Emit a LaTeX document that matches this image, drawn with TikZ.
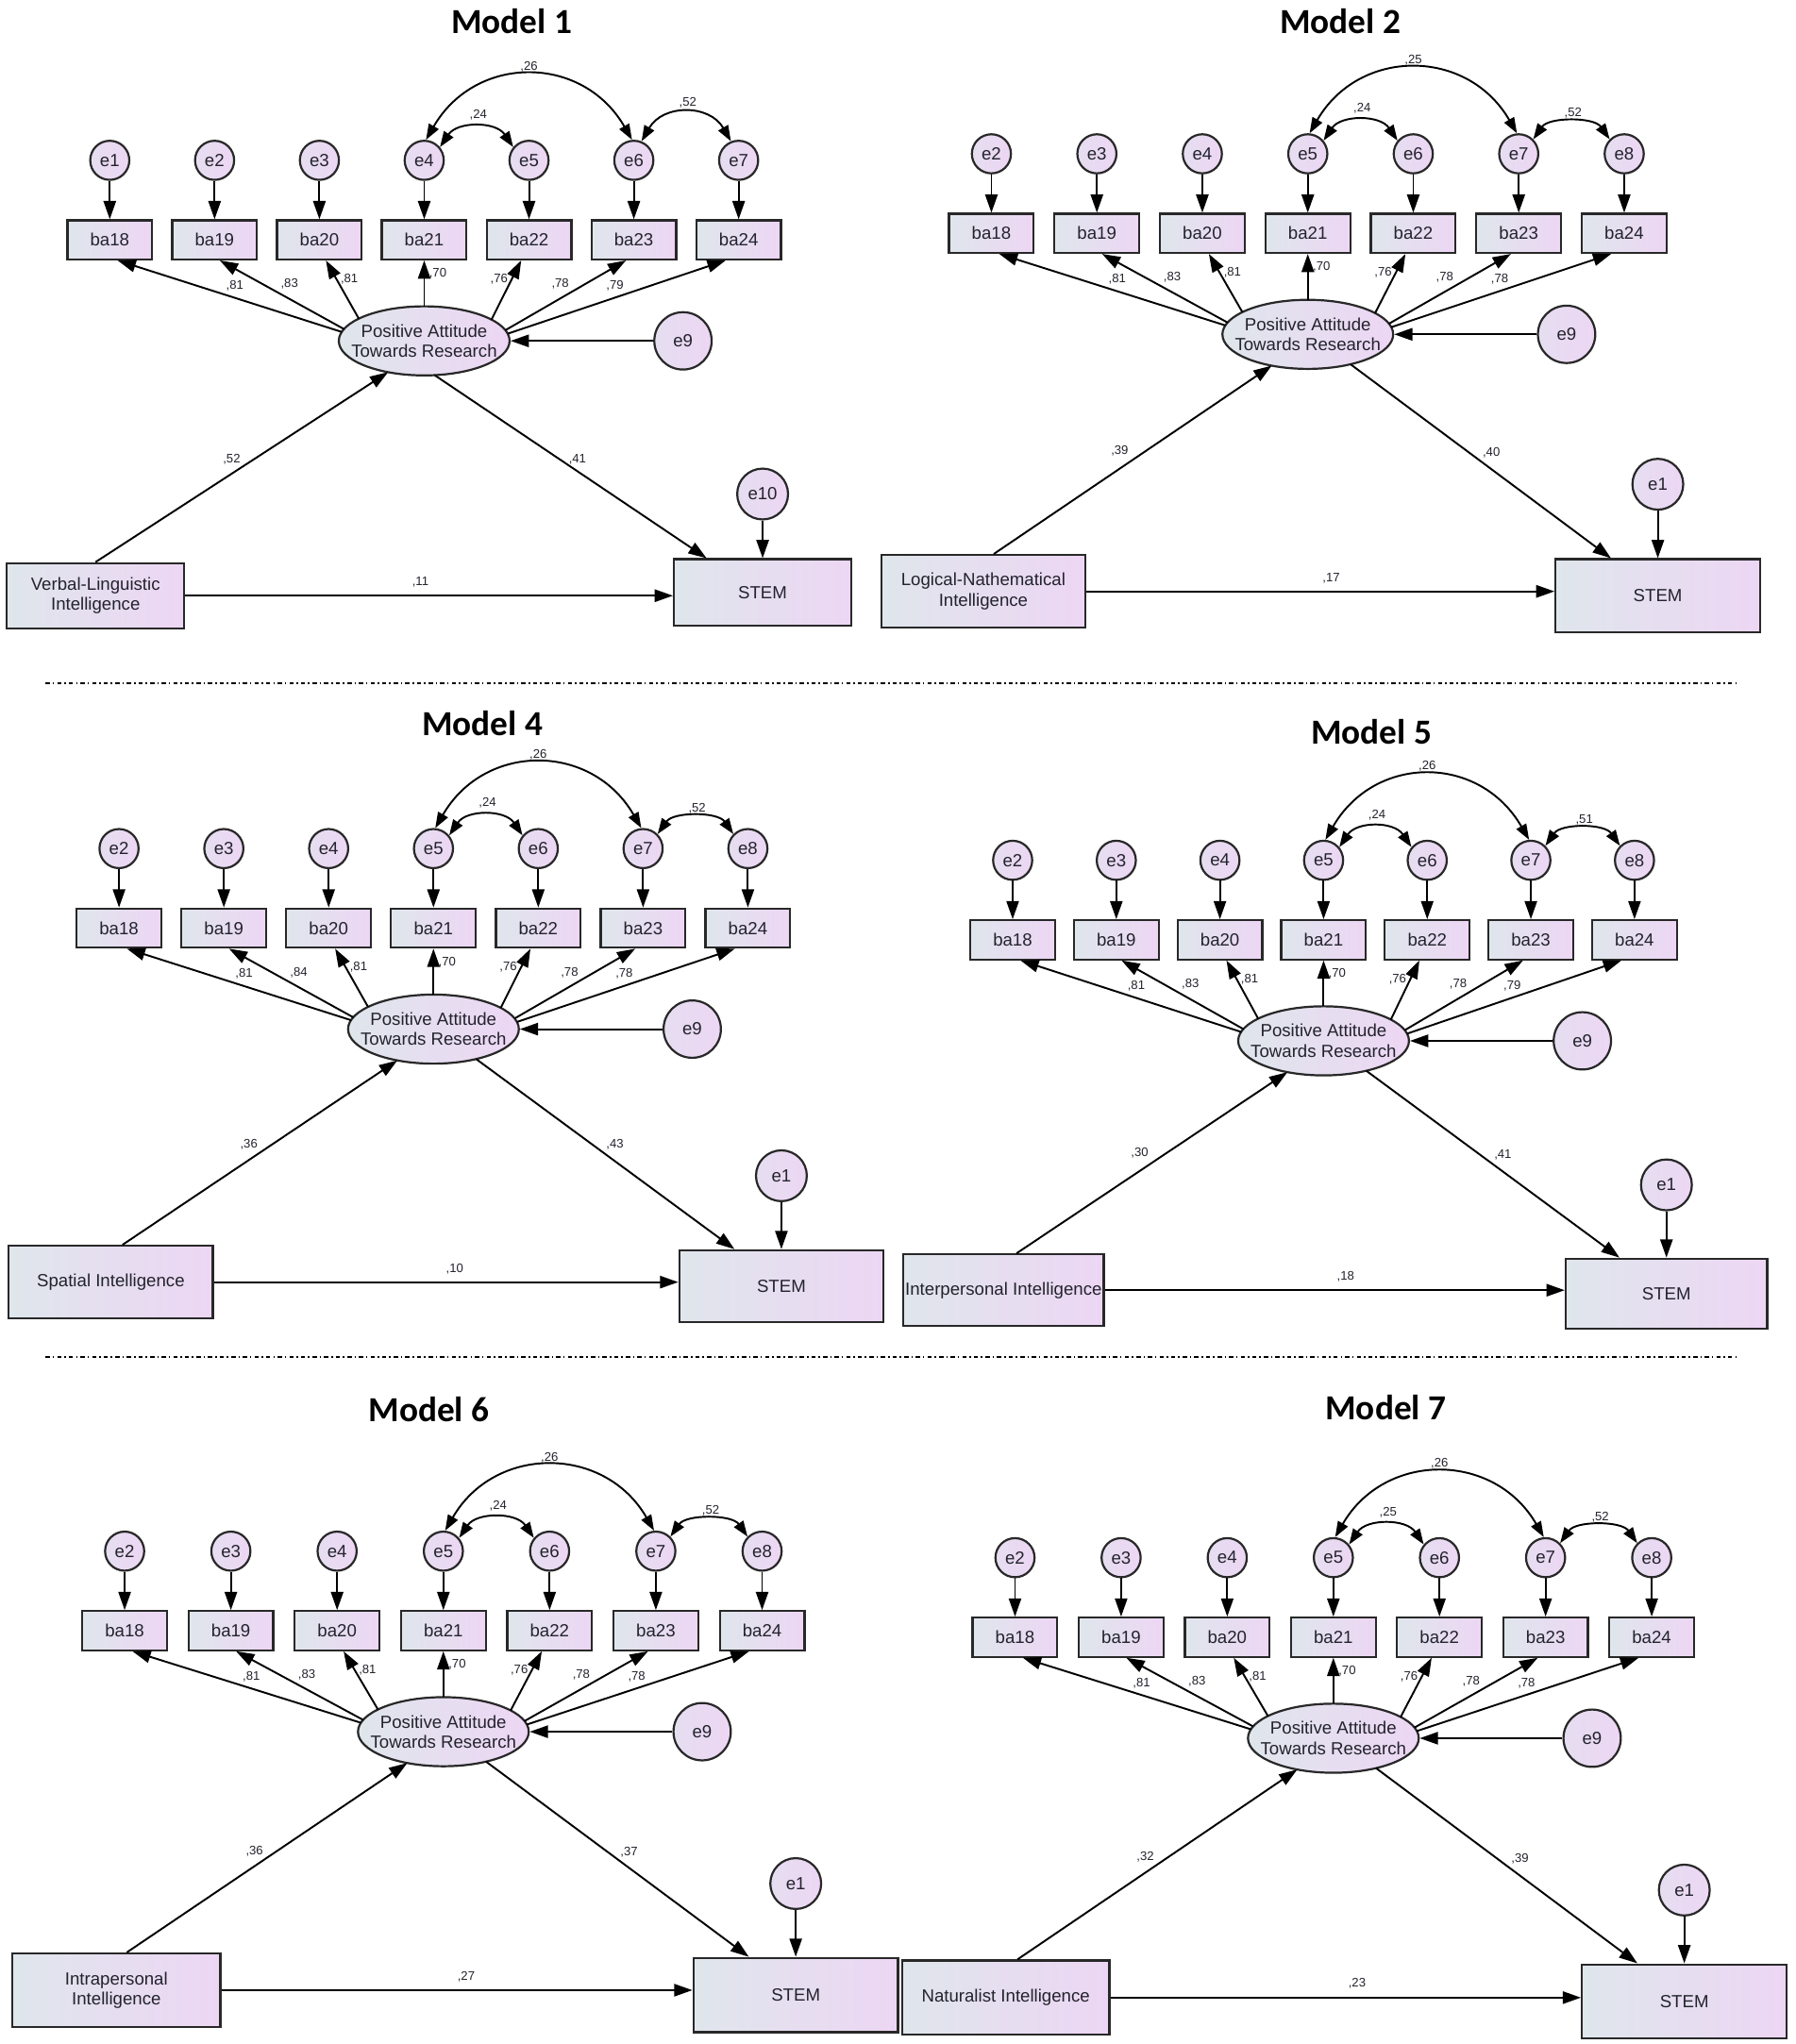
\documentclass[tikz,border=0pt]{standalone}
\usepackage{fontspec}
\setmainfont{Liberation Sans}
\newfontfamily\titlefont{Carlito}
\usetikzlibrary{arrows.meta,shapes.geometric,calc}

\definecolor{boxL}{RGB}{223,230,236}
\definecolor{boxR}{RGB}{237,214,244}
\definecolor{circL}{RGB}{229,222,240}
\definecolor{circR}{RGB}{237,214,244}
\definecolor{edgecol}{RGB}{40,40,40}
\definecolor{txt}{RGB}{35,35,45}

\tikzset{
  every node/.style={text=txt},
  shadebase/.style={draw=edgecol, line width=1.6pt, left color=boxL, right color=boxR, inner sep=0pt},
  indbox/.style={shadebase, rectangle, minimum width=65pt, minimum height=30pt, font=\fontsize{13.5}{15.5}\selectfont},
  errc/.style={shadebase, circle, left color=circL, right color=circR, minimum size=30pt, font=\fontsize{13.5}{15}\selectfont},
  errbig/.style={errc, minimum size=44pt},
  errmid/.style={errc, minimum size=39pt},
  latent/.style={shadebase, ellipse, inner xsep=-12pt, inner ysep=0pt, minimum width=131pt, minimum height=53pt, align=center, font=\fontsize{13.5}{15.5}\selectfont},
  obsbox/.style={shadebase, rectangle, align=center, font=\fontsize{13.5}{15.5}\selectfont},
  coef/.style={inner sep=0pt, font=\fontsize{9.5}{10}\selectfont},
  mtitle/.style={inner sep=0pt, font=\titlefont\bfseries\fontsize{27}{30}\selectfont, text=black},
  arr/.style={draw=black, line width=1.4pt, -{Triangle[length=14pt,width=9.5pt]}},
  covarr/.style={draw=black, line width=1.4pt, {Triangle[length=12pt,width=8.5pt]}-{Triangle[length=12pt,width=8.5pt]}},
  sepline/.style={draw=black, line width=1.1pt, dash pattern=on 3.3pt off 2.2pt on 1.1pt off 2.3pt},
}

\def\LX{{96,138,184,252,299,346,388,322,283,444}}

% #1 prefix, #2 x0, #3 y0, #4 spacing, #5 mode (1 = Model 1), #6 labels
\newcommand\semtop[6]{%
  \ifnum#5=1 \def\RL{-44}\else\def\RL{-31}\fi
  \edef\LY{{96,95,91,87,91,95,96,-72,-35,\RL}}%
  \foreach \k in {0,...,6}{%
    \pgfmathsetmacro\xx{#2+\k*#4}%
    \pgfmathtruncatemacro\en{\k+#5}%
    \pgfmathtruncatemacro\bn{\k+18}%
    \node[errc] (#1e\k) at (\xx,-#3) {e\en};
    \node[indbox] (#1b\k) at (\xx,-#3-61) {ba\bn};
    \draw[arr] (#1e\k) -- (#1b\k);
  }
  \node[latent] (#1lat) at ({#2+3*#4},{-#3-138.5}) {Positive Attitude\\Towards Research};
  \node[errbig] (#1e9) at ({#2+3*#4+198.5},{-#3-138.5}) {e9};
  \coordinate (#1in) at ($(#1lat.center)+(245:65.5 and 26.5)$);
  \coordinate (#1outA) at ($(#1lat.center)+(277:65.5 and 26.5)$);
  \coordinate (#1outB) at ($(#1lat.center)+(300:65.5 and 26.5)$);
  \draw[arr] (#1e9) -- (#1lat.east);
  \foreach \k/\ang/\oo in {0/165/6,1/160/4,2/140/5,3/90/0,4/38/-6,5/18/-6,6/12/-10}
    \draw[arr] ($(#1lat.center)+(\ang:65.5 and 26.5)$) -- ([xshift=\oo pt]#1b\k.south);
  \draw[covarr] (#1e3.85) to[out=60,in=120,distance=76pt] (#1e5.95);
  \draw[covarr] (#1e3.40) to[out=56,in=124,distance=24pt] (#1e4.140);
  \ifnum#5=1
    \draw[covarr] (#1e5.68) to[out=60,in=120,distance=33pt] (#1e6.112);
  \else
    \draw[covarr] (#1e5.45) to[out=55,in=125,distance=21pt] (#1e6.135);
  \fi
  \foreach \lab [count=\n from 0] in {#6}{%
    \pgfmathsetmacro\cdx{\LX[\n]}%
    \pgfmathsetmacro\cdy{\LY[\n]}%
    \pgfmathsetmacro\px{#2+\cdx/80.5*#4}%
    \pgfmathsetmacro\py{-#3-\cdy}%
    \node[coef] (#1c\n) at (\px,\py) {,\lab};
  }
}

\begin{document}
\begin{tikzpicture}[x=1pt,y=1pt]
\useasboundingbox (0,0) rectangle (1377,-1568.1);
\fill[white] (0,0) rectangle (1377,-1568.1);

% ---------------- Model 1
\node[mtitle] (m1t) at (392.5,-16) {Model 1};
\semtop{m1}{84.2}{123}{80.4}{1}{81,83,81,70,76,78,79,26,24,52}
\node[obsbox, minimum width=136pt, minimum height=50pt] (m1x) at (73.3,-457) {Verbal-Linguistic\\Intelligence};
\node[obsbox, minimum width=136pt, minimum height=51pt] (m1s) at (585,-454.5) {STEM};
\node[errmid] (m1z) at (585,-379) {e10};
\draw[arr] (m1x.north) -- (m1in);
\draw[arr] (m1outA) -- ([xshift=-43pt]m1s.north);
\draw[arr] (m1z) -- (m1z |- m1s.north);
\draw[arr] (m1x) -- (m1x -| m1s.west);
\node[coef] (m1c10) at (177.7,-352.4) {,52};
\node[coef] (m1c11) at (443,-352.4) {,41};
\node[coef] (m1c12) at (322.5,-446.5) {,11};

% ---------------- Model 2
\node[mtitle] (m2t) at (1028,-16) {Model 2};
\semtop{m2}{760.5}{118}{80.9}{2}{81,83,81,70,76,78,78,25,24,52}
\node[obsbox, minimum width=156.6pt, minimum height=55.8pt] (m2x) at (754.3,-453.7) {Logical-Nathematical\\Intelligence};
\node[obsbox, minimum width=157pt, minimum height=56pt] (m2s) at (1271.7,-457) {STEM};
\node[errmid] (m2z) at (1271.7,-371.5) {e1};
\draw[arr] ([xshift=8pt]m2x.north) -- (m2in);
\draw[arr] (m2outB) -- ([xshift=-36pt]m2s.north);
\draw[arr] (m2z) -- (m2z |- m2s.north);
\draw[arr] (m2x) -- (m2x -| m2s.west);
\node[coef] (m2c10) at (858.9,-346) {,39};
\node[coef] (m2c11) at (1144,-347) {,40};
\node[coef] (m2c12) at (1021.2,-443.3) {,17};

% separator 1
\coordinate (s1a) at (35,-524);
\coordinate (s1b) at (1334,-524);
\draw[sepline] (s1a) -- (s1b);

% ---------------- Model 4
\node[mtitle] (m4t) at (370,-555) {Model 4};
\semtop{m4}{91.3}{651}{80.4}{2}{81,84,81,70,76,78,78,26,24,52}
\node[obsbox, minimum width=156.4pt, minimum height=55.7pt] (m4x) at (85,-983.6) {Spatial Intelligence};
\node[obsbox, minimum width=156.7pt, minimum height=55pt] (m4s) at (599.4,-986.6) {STEM};
\node[errmid] (m4z) at (599.4,-902) {e1};
\draw[arr] ([xshift=9pt]m4x.north) -- (m4in);
\draw[arr] (m4outB) -- ([xshift=-36pt]m4s.north);
\draw[arr] (m4z) -- (m4z |- m4s.north);
\draw[arr] (m4x) -- (m4x -| m4s.west);
\node[coef] (m4c10) at (190.9,-878.3) {,36};
\node[coef] (m4c11) at (471.7,-878.3) {,43};
\node[coef] (m4c12) at (348.8,-973.7) {,10};

% ---------------- Model 5
\node[mtitle] (m5t) at (1052,-561.6) {Model 5};
\semtop{m5}{776.8}{660}{79.5}{2}{81,83,81,70,76,78,79,26,24,51}
\node[obsbox, minimum width=153.6pt, minimum height=55pt] (m5x) at (769.8,-989.8) {Interpersonal Intelligence};
\node[obsbox, minimum width=154.5pt, minimum height=54pt] (m5s) at (1278.3,-992.6) {STEM};
\node[errmid] (m5z) at (1278.3,-909) {e1};
\draw[arr] ([xshift=10pt]m5x.north) -- (m5in);
\draw[arr] (m5outB) -- ([xshift=-36pt]m5s.north);
\draw[arr] (m5z) -- (m5z |- m5s.north);
\draw[arr] (m5x) -- (m5x -| m5s.west);
\node[coef] (m5c10) at (874.2,-884.8) {,30};
\node[coef] (m5c11) at (1152.8,-886) {,41};
\node[coef] (m5c12) at (1032.2,-979.2) {,18};

% separator 2
\coordinate (s2a) at (35,-1041);
\coordinate (s2b) at (1334,-1041);
\draw[sepline] (s2a) -- (s2b);

% ---------------- Model 6
\node[mtitle] (m6t) at (329,-1081) {Model 6};
\semtop{m6}{95.6}{1190}{81.5}{2}{81,83,81,70,76,78,78,26,24,52}
\node[obsbox, minimum width=159.4pt, minimum height=56.4pt] (m6x) at (89.3,-1526.8) {Intrapersonal\\Intelligence};
\node[obsbox, minimum width=157pt, minimum height=57pt] (m6s) at (610.4,-1530.5) {STEM};
\node[errmid] (m6z) at (610.4,-1445) {e1};
\draw[arr] ([xshift=8pt]m6x.north) -- (m6in);
\draw[arr] (m6outB) -- ([xshift=-36pt]m6s.north);
\draw[arr] (m6z) -- (m6z |- m6s.north);
\draw[arr] (m6x) -- (m6x -| m6s.west);
\node[coef] (m6c10) at (195.2,-1420) {,36};
\node[coef] (m6c11) at (482.6,-1420.6) {,37};
\node[coef] (m6c12) at (357.6,-1516.7) {,27};

% ---------------- Model 7
\node[mtitle] (m7t) at (1063,-1080) {Model 7};
\semtop{m7}{778.6}{1195}{81.4}{2}{81,83,81,70,76,78,78,26,25,52}
\node[obsbox, minimum width=159pt, minimum height=57pt] (m7x) at (771.5,-1532.5) {Naturalist Intelligence};
\node[obsbox, minimum width=157pt, minimum height=57pt] (m7s) at (1292,-1535.5) {STEM};
\node[errmid] (m7z) at (1292,-1450) {e1};
\draw[arr] ([xshift=9pt]m7x.north) -- (m7in);
\draw[arr] (m7outB) -- ([xshift=-36pt]m7s.north);
\draw[arr] (m7z) -- (m7z |- m7s.north);
\draw[arr] (m7x) -- (m7x -| m7s.west);
\node[coef] (m7c10) at (878.6,-1424.8) {,32};
\node[coef] (m7c11) at (1166,-1426.2) {,39};
\node[coef] (m7c12) at (1041,-1521.7) {,23};

\end{tikzpicture}
\end{document}
